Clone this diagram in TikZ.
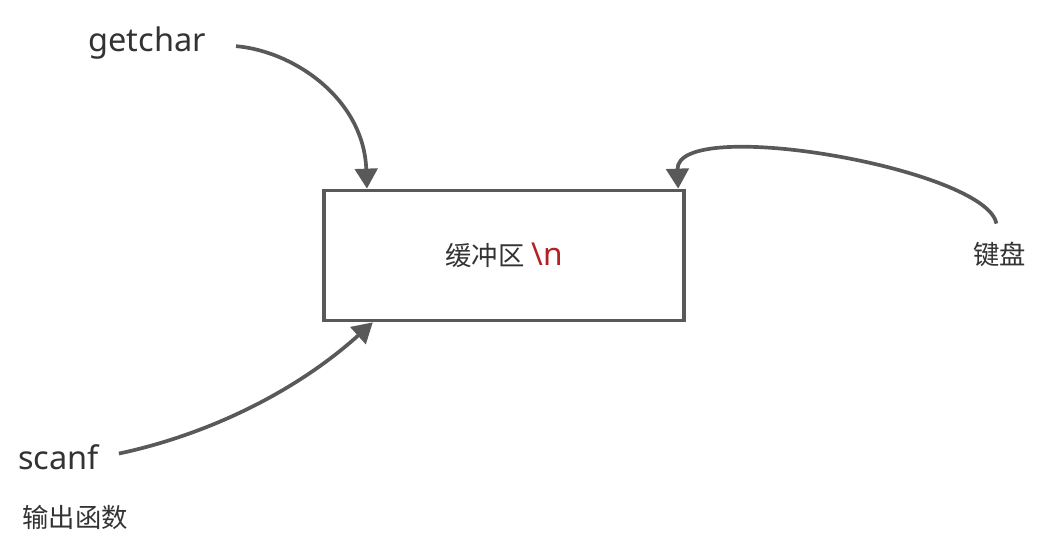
\documentclass[tikz,border=0pt]{standalone}
\usepackage{fontspec}
\setmainfont{Noto Sans}
\newfontfamily\cjk{Noto Sans CJK SC}
\usetikzlibrary{arrows.meta,positioning,calc}
\definecolor{bfLine}{HTML}{595959}
\definecolor{bfInk}{HTML}{333333}
\definecolor{bfRed}{HTML}{B22222}

\begin{document}
\begin{tikzpicture}[
  >={Triangle[length=4mm,width=4.5mm]},
  buffer/.style={draw=bfLine,line width=2.1pt,fill=white,minimum width=7.2cm,minimum height=2.6cm,
                 text=bfInk,font=\fontsize{15}{18}\selectfont},
  fname/.style={text=bfInk,inner sep=0pt,font=\fontsize{18.5}{21}\selectfont},
  note/.style={text=bfInk,inner sep=0pt,font=\cjk\fontsize{15}{18}\selectfont},
  flow/.style={->,draw=bfLine,line width=2.1pt},
]
\useasboundingbox (0,0) rectangle (20.84,11.04);

\node[buffer] (buf) at (10.08,5.93) {{\cjk 缓冲区} \textcolor{bfRed}{\fontsize{18}{21}\selectfont\textbackslash n}};

\node[fname,anchor=base west] (getchar) at (1.76,10.0) {getchar};
\node[fname,anchor=base west] (scanf)   at (0.36,1.64) {scanf};
\node[note,anchor=west]       (desc)    at (0.44,0.70) {输出函数};
\node[note]                   (kbd)     at (19.99,5.96) {键盘};

% getchar -> buffer
\draw[flow,shorten <=0.6cm] (getchar.east) to[out=-5,in=92,looseness=1.05] (buf.154.4);
% keyboard -> buffer
\draw[flow,shorten <=0.36cm] (kbd.north) to[out=100,in=92,looseness=0.58] (buf.21);
% scanf -> buffer
\draw[flow,shorten <=0.4cm] (scanf.east) to[out=12,in=222,looseness=0.9] (buf.207.5);
\end{tikzpicture}
\end{document}
